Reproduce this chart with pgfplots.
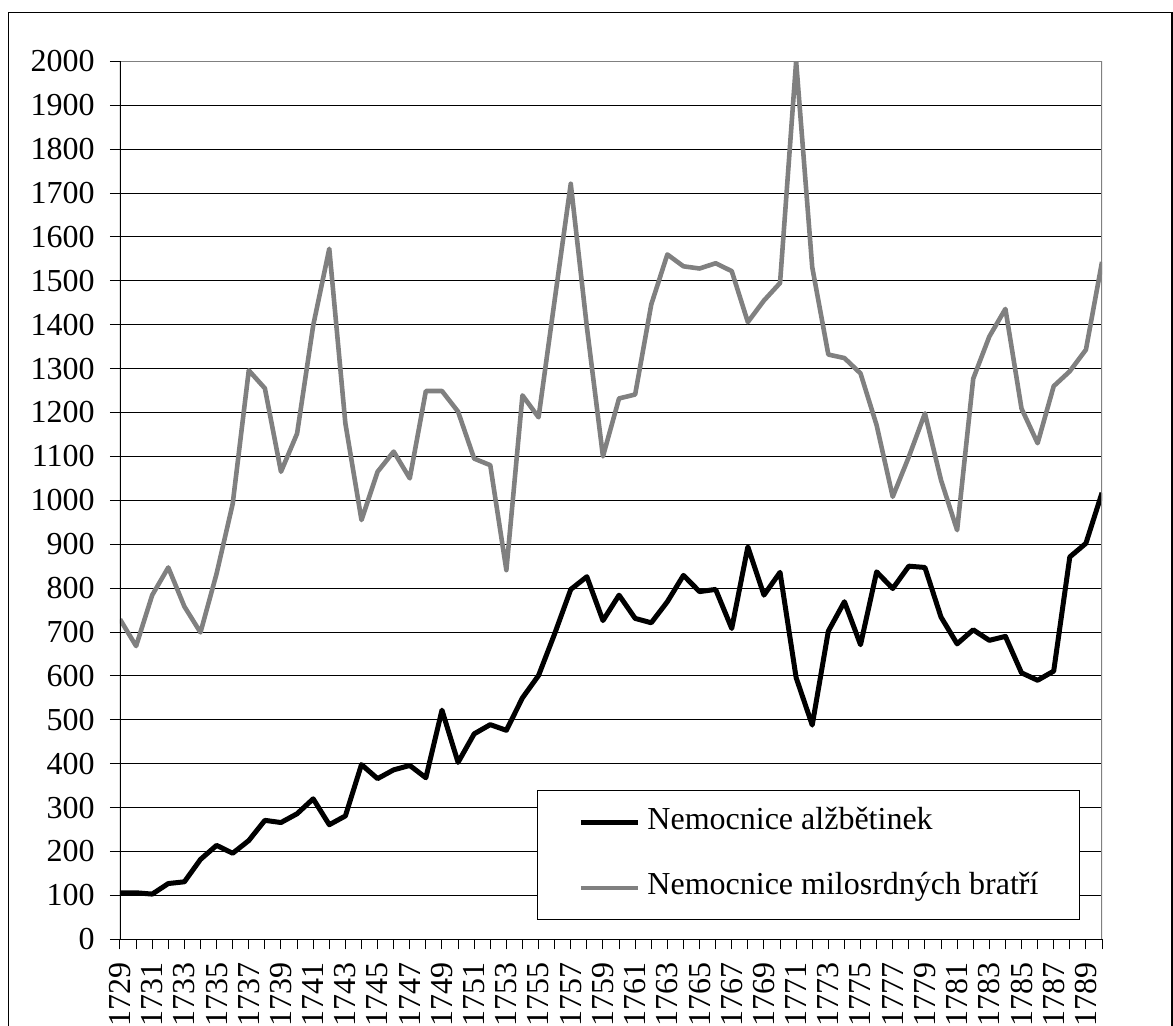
\documentclass[border=0pt]{standalone}
\usepackage{fontspec}
\setmainfont{Liberation Serif}
\usepackage{pgfplots}
\pgfplotsset{compat=1.18}
\usepackage{pgfplotstable}
\definecolor{sgray}{RGB}{128,128,128}

\pgfplotstableread{
year val
1729 106
1730 106
1731 103
1732 127
1733 131
1734 182
1735 214
1736 196
1737 225
1738 271
1739 266
1740 286
1741 320
1742 261
1743 281
1744 398
1745 366
1746 386
1747 396
1748 368
1749 522
1750 403
1751 468
1752 489
1753 476
1754 550
1755 601
1756 696
1757 797
1758 826
1759 726
1760 784
1761 731
1762 721
1763 769
1764 829
1765 792
1766 797
1767 708
1768 894
1769 784
1770 836
1771 596
1772 488
1773 702
1774 769
1775 671
1776 837
1777 799
1778 850
1779 847
1780 734
1781 673
1782 705
1783 681
1784 690
1785 607
1786 590
1787 611
1788 871
1789 902
1790 1017
}\alzb

\pgfplotstableread{
year val
1729 729
1730 668
1731 784
1732 847
1733 758
1734 699
1735 833
1736 992
1737 1296
1738 1255
1739 1065
1740 1152
1741 1398
1742 1573
1743 1175
1744 955
1745 1065
1746 1111
1747 1050
1748 1249
1749 1249
1750 1202
1751 1095
1752 1080
1753 841
1754 1239
1755 1189
1756 1456
1757 1721
1758 1395
1759 1100
1760 1232
1761 1241
1762 1446
1763 1560
1764 1533
1765 1528
1766 1540
1767 1522
1768 1406
1769 1455
1770 1495
1771 2000
1772 1531
1773 1332
1774 1324
1775 1289
1776 1171
1777 1008
1778 1099
1779 1198
1780 1046
1781 932
1782 1277
1783 1373
1784 1436
1785 1209
1786 1130
1787 1260
1788 1294
1789 1343
1790 1543
}\milos

\begin{document}
\begin{tikzpicture}
\useasboundingbox (-60pt,-42.85pt) rectangle (526.5pt,469.65pt);
\draw[line width=0.6pt] (-55.9pt,-60pt) -- (-55.9pt,463.3pt) -- (526pt,463.3pt) -- (526pt,-60pt);
\begin{axis}[
  at={(0pt,0pt)}, anchor=south west,
  scale only axis, width=491pt, height=439pt,
  xmin=1729, xmax=1790, ymin=0, ymax=2000,
  xtick={1729,1731,...,1789},
  minor xtick={1730,1732,...,1790},
  ytick={0,100,...,2000},
  xtick pos=lower, ytick pos=left,
  tick align=outside,
  major tick length=5pt, minor tick length=5pt,
  every tick/.style={black, line width=0.5pt},
  ymajorgrids,
  grid style={black, line width=0.5pt},
  axis line style={draw=none},
  ticklabel style={font=\fontsize{16}{19}\selectfont},
  xticklabel style={rotate=90, anchor=east, inner sep=0pt},
  yticklabel style={inner sep=0pt},
  xticklabel shift=6.5pt,
  yticklabel shift=7.5pt,
  /pgf/number format/assume math mode=true,
  /pgf/number format/1000 sep={},
  legend cell align=left,
  legend style={at={(0.4246,0.1697)}, anchor=north west,
    draw=black, line width=0.5pt, fill=white,
    inner xsep=20.5pt, inner ysep=8.5pt,
    row sep=17.5pt, column sep=3.5pt,
    nodes={inner sep=0pt, text height=11pt, text depth=4pt,
      font=\fontsize{16}{19}\selectfont}},
  legend image code/.code={\draw[#1] (0pt,0pt) -- (28.5pt,0pt);},
]
\addplot[black, line width=2.5pt, line join=round] table[x=year,y=val] {\alzb};
\addlegendentry{Nemocnice alžbětinek}
\addplot[sgray, line width=2.3pt, line join=round] table[x=year,y=val] {\milos};
\addlegendentry{Nemocnice milosrdných bratří}
\draw[sgray, line width=0.8pt] (rel axis cs:0,1) -- (rel axis cs:1,1) -- (rel axis cs:1,0);
\draw[black, line width=0.8pt] (rel axis cs:0,1) -- (rel axis cs:0,0) -- (rel axis cs:1,0);
\end{axis}
\end{tikzpicture}
\end{document}
